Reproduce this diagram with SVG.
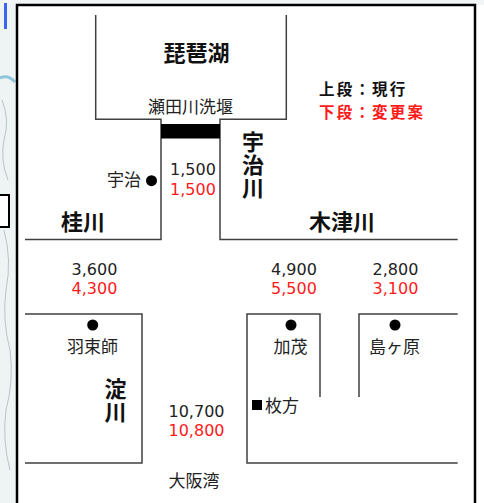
<svg xmlns="http://www.w3.org/2000/svg" width="484" height="503" viewBox="0 0 484 503">
<style>
.ln{stroke:#404040;stroke-width:1.5;fill:none}
.jp{font-family:"Noto Sans CJK JP",sans-serif;font-size:17px;fill:#222}
.big{font-family:"Noto Sans CJK JP",sans-serif;font-size:22px;font-weight:bold;fill:#111}
.vt{writing-mode:vertical-rl;letter-spacing:1px}
.num{font-family:"DejaVu Sans",sans-serif;font-size:16px;fill:#222}
.red{fill:#ff1a1a}
.leg{font-family:"Noto Sans CJK JP",sans-serif;font-size:15.5px;font-weight:bold;letter-spacing:2.2px}
</style>
<rect x="0" y="0" width="484" height="503" fill="#ffffff"/>
<g id="map-bg">
<rect x="0" y="0" width="17" height="503" fill="#eef3f4"/>
<rect x="0" y="0" width="484" height="5" fill="#f2f5f6"/>
<path d="M0 78 Q8 74 15 82" stroke="#4fa8c8" stroke-width="3" fill="none" opacity="0.6"/>
<path d="M2 100 Q10 120 4 140 Q0 160 8 180 M4 230 Q12 260 6 290 Q2 320 10 350 Q14 380 6 410 Q2 440 10 470" stroke="#b8c4cc" stroke-width="1" fill="none"/>
<rect x="4" y="3" width="3" height="26" fill="#3a66ee"/>
<rect x="-2" y="195" width="11" height="32" fill="#fff" stroke="#000" stroke-width="2"/>
</g>
<rect id="frame" x="17" y="5" width="458" height="510" fill="#fff" stroke="#000" stroke-width="2.5"/>
<g id="connectors">
<path class="ln" d="M95.7 15 V119.3 H161 V239.5 H25"/>
<path class="ln" d="M286.3 15 V119.3 H220 V239.5 H457.7"/>
<path class="ln" d="M25 314 H142 V463 H25"/>
<path class="ln" d="M457.7 314 H359 V397"/>
<path class="ln" d="M320 397 V314 H247 V463 H457.7"/>
</g>
<g id="lake">
<text class="big" x="196.5" y="61" text-anchor="middle">琵琶湖</text>
</g>
<g id="weir">
<rect x="161" y="124" width="59" height="14.5" fill="#000"/>
<text class="jp" x="190.5" y="113" text-anchor="middle">瀬田川洗堰</text>
</g>
<g id="legend">
<text class="leg" x="319" y="94.5" fill="#111">上段：現行</text>
<text class="leg" x="319" y="117.5" fill="#ff1a1a">下段：変更案</text>
</g>
<g id="uji-river">
<text class="big vt" x="253" y="131">宇治川</text>
<text class="num" x="193" y="175" text-anchor="middle">1,500</text>
<text class="num red" x="193" y="195" text-anchor="middle">1,500</text>
</g>
<g id="uji">
<text class="jp" x="141" y="186" text-anchor="end">宇治</text>
<circle cx="151.5" cy="180.7" r="5.5" fill="#000"/>
</g>
<g id="katsura">
<text class="big" x="83" y="230" text-anchor="middle">桂川</text>
<text class="num" x="94.5" y="275" text-anchor="middle">3,600</text>
<text class="num red" x="94.5" y="294" text-anchor="middle">4,300</text>
</g>
<g id="kizu">
<text class="big" x="342" y="230" text-anchor="middle">木津川</text>
<text class="num" x="294" y="275" text-anchor="middle">4,900</text>
<text class="num red" x="294" y="294" text-anchor="middle">5,500</text>
<text class="num" x="395.5" y="275" text-anchor="middle">2,800</text>
<text class="num red" x="395.5" y="294" text-anchor="middle">3,100</text>
</g>
<g id="hazukashi">
<circle cx="92.7" cy="325" r="5.5" fill="#000"/>
<text class="jp" x="92.5" y="353" text-anchor="middle">羽束師</text>
</g>
<g id="kamo">
<circle cx="291" cy="325" r="5.5" fill="#000"/>
<text class="jp" x="290.5" y="353" text-anchor="middle">加茂</text>
</g>
<g id="shimagahara">
<circle cx="395" cy="325" r="5.5" fill="#000"/>
<text class="jp" x="394.5" y="353" text-anchor="middle">島ヶ原</text>
</g>
<g id="yodo">
<text class="big vt" x="115.5" y="378">淀川</text>
<text class="num" x="196.5" y="416.7" text-anchor="middle">10,700</text>
<text class="num red" x="196.5" y="435.7" text-anchor="middle">10,800</text>
</g>
<g id="hirakata">
<rect x="252" y="400" width="10" height="10" fill="#000"/>
<text class="jp" x="265" y="412">枚方</text>
</g>
<g id="osaka-bay">
<text class="jp" x="194" y="487" text-anchor="middle">大阪湾</text>
</g>
</svg>
